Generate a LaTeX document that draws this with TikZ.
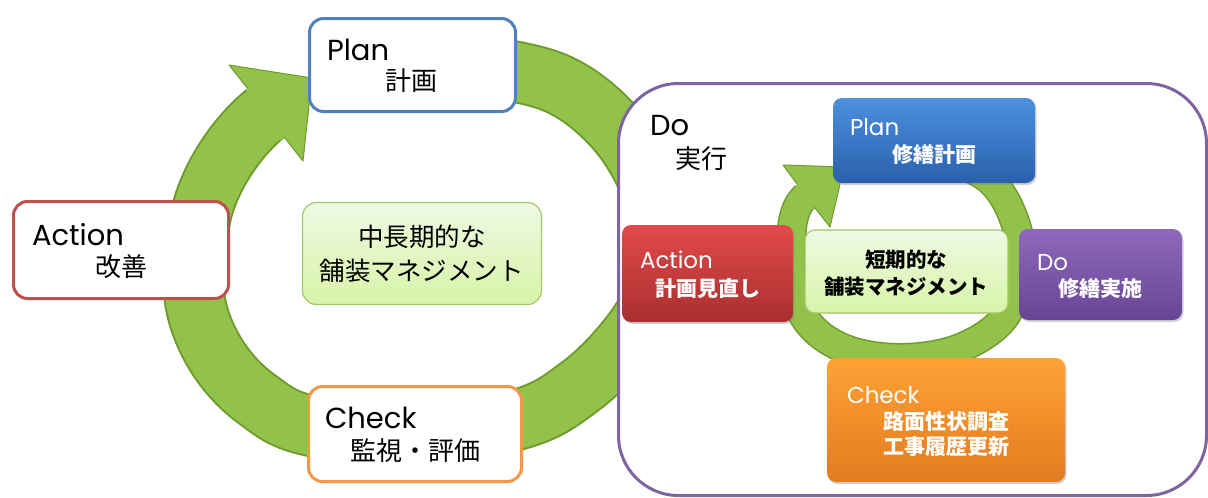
\documentclass[tikz,border=0pt]{standalone}
\usepackage{fontspec}
\setmainfont{Noto Sans CJK JP}
\newfontfamily\lat{Poppins}
\usetikzlibrary{shadows}
\definecolor{ringg}{HTML}{93C24A}
\definecolor{ringd}{HTML}{6F9A2E}
\definecolor{pblue}{HTML}{4F81BD}
\definecolor{ared}{HTML}{C0504D}
\definecolor{corange}{HTML}{F79646}
\definecolor{dpurple}{HTML}{8064A2}
\definecolor{gtop}{HTML}{EEF9E3}
\definecolor{gbot}{HTML}{D8F4A8}
\definecolor{gline}{HTML}{A3C768}
\definecolor{bluetop}{HTML}{4C90DE}
\definecolor{bluebot}{HTML}{2A60AC}
\definecolor{redtop}{HTML}{E24A4A}
\definecolor{redbot}{HTML}{A92F2F}
\definecolor{purtop}{HTML}{8E68BC}
\definecolor{purbot}{HTML}{684694}
\definecolor{ortop}{HTML}{FFA235}
\definecolor{orbot}{HTML}{E37B20}
\tikzset{
  ringout/.style={line width=#1, draw=ringd, line join=round},
  ringin/.style={line width=#1, draw=ringg, line join=round},
  headfill/.style={fill=ringg},
  headline/.style={draw=ringd, line width=1pt, line join=round},
  bigbox/.style={draw=#1, line width=3pt, fill=white, rounded corners=14pt, inner sep=0pt},
  ctrbox/.style={draw=gline, line width=1.2pt, top color=gtop, bottom color=gbot, rounded corners=14pt, inner sep=0pt},
  inbox/.style n args={2}{rounded corners=9pt, top color=#1, bottom color=#2, inner sep=0pt,
     drop shadow={shadow xshift=1.5pt, shadow yshift=-2pt, opacity=.35}},
  txt/.style={anchor=base west, inner sep=0pt, outer sep=0pt},
  ctxt/.style={anchor=base, inner sep=0pt, outer sep=0pt},
  bigL/.style={font=\lat\fontsize{29}{31}\selectfont},
  bigJ/.style={font=\fontsize{26}{28}\selectfont},
  smL/.style={font=\lat\fontsize{23}{25}\selectfont, text=white},
  smJ/.style={font=\bfseries\fontsize{21}{23}\selectfont, text=white},
}
\begin{document}
\begin{tikzpicture}[x=1pt,y=-1pt]
\useasboundingbox (0,0) rectangle (1208,498);
% ---------- big ring ----------
\def\bigring{plot[smooth, tension=0.6] coordinates {(420,60) (517,72) (573,92) (621,135) (652,190) (664,245) (652,300) (622,346) (578,388) (523,418) (415,438) (307,425) (258,400) (222,364) (199,318) (193,270) (200,220)} .. controls (207,180) and (237,136) .. (266,113)}
\draw[ringout=62pt] \bigring;
\draw[ringin=58pt] \bigring;
\fill[headfill] (246,92) -- (248,89) -- (229,65) -- (312,78) -- (303,161) -- (284,137) -- (281,140) -- cycle;
\draw[headline] (248,89) -- (229,65) -- (312,78) -- (303,161) -- (284,137);
% ---------- big boxes ----------
\node[bigbox=pblue, minimum width=206pt, minimum height=93pt] (plan) at (412.5,65) {};
\node[bigbox=ared, minimum width=215pt, minimum height=97pt] (action) at (121,250) {};
\node[bigbox=corange, minimum width=213pt, minimum height=95pt] (check) at (415,434) {};
\node[ctrbox, minimum width=239pt, minimum height=102pt] (mid) at (422,253.5) {};
\node[txt, bigL] (planL) at (327,60) {Plan};
\node[txt, bigJ] (planJ) at (385,90.5) {計画};
\node[txt, bigL] (actionL) at (32,245) {Action};
\node[txt, bigJ] (actionJ) at (95,276.5) {改善};
\node[txt, bigL] (checkL) at (325,428) {Check};
\node[txt, bigJ] (checkJ) at (350,460.5) {監視・評価};
\node[ctxt, font=\fontsize{25.5}{27}\selectfont] (midA) at (422,246.5) {中長期的な};
\node[ctxt, font=\fontsize{25.5}{27}\selectfont] (midB) at (421.5,280.5) {舗装マネジメント};
% ---------- Do frame ----------
\draw[draw=dpurple, line width=3pt, fill=white, rounded corners=60pt] (618.5,83.5) rectangle (1206.5,495.5);
\node[txt, bigL] (doL) at (650,135) {Do};
\node[txt, bigJ] (doJ) at (675,168.5) {実行};
% ---------- small ring ----------
\def\smallring{plot[smooth, tension=0.6] coordinates {(925,150) (987,178) (1015,222) (1020,270) (1004,318) (960,348) (903,358) (848,350) (810,325) (792,285) (791,240)} .. controls (792,218) and (796,204) .. (806,196)}
\draw[ringout=30pt] \smallring;
\draw[ringin=27pt] \smallring;
\fill[headfill] (795,188) -- (797.6,184.8) -- (783,165) -- (844,167) -- (830,227) -- (814.4,207.2) -- (812,210) -- cycle;
\draw[headline] (797.6,184.8) -- (783,165) -- (844,167) -- (830,227) -- (814.4,207.2);
% ---------- inner boxes ----------
\node[inbox={bluetop}{bluebot}, minimum width=202pt, minimum height=85pt] (iplan) at (934,140.5) {};
\node[inbox={redtop}{redbot}, minimum width=171pt, minimum height=97pt] (iaction) at (707.5,273.5) {};
\node[inbox={purtop}{purbot}, minimum width=163pt, minimum height=91pt] (ido) at (1100.5,274.5) {};
\node[inbox={ortop}{orbot}, minimum width=238pt, minimum height=124pt] (icheck) at (946,420) {};
\node[ctrbox, rounded corners=10pt, minimum width=203pt, minimum height=83pt] (imid) at (906.5,271.5) {};
\node[txt, smL] (iplanL) at (850,135) {Plan};
\node[txt, smJ] (iplanJ) at (892,162) {修繕計画};
\node[txt, smL] (iactionL) at (640,268) {Action};
\node[txt, smJ] (iactionJ) at (655,296) {計画見直し};
\node[txt, smL] (idoL) at (1037,270) {Do};
\node[txt, smJ] (idoJ) at (1058,296) {修繕実施};
\node[txt, smL] (icheckL) at (847,403) {Check};
\node[txt, smJ] (icheckA) at (883,429) {路面性状調査};
\node[txt, smJ] (icheckB) at (883,454) {工事履歴更新};
\node[ctxt, font=\bfseries\fontsize{20.5}{22}\selectfont] (imidA) at (906,267) {短期的な};
\node[ctxt, font=\bfseries\fontsize{20.5}{22}\selectfont] (imidB) at (906,294) {舗装マネジメント};
\end{tikzpicture}
\end{document}
